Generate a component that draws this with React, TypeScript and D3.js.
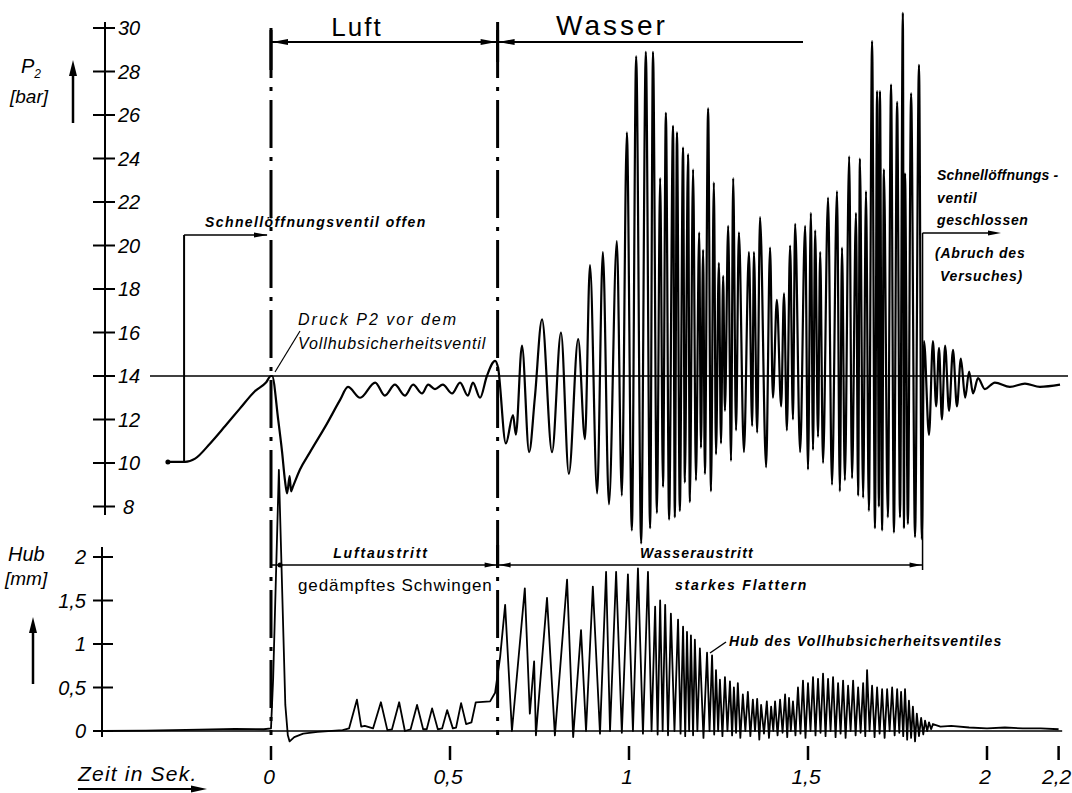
import React from "react";
import * as d3 from "d3";

const W = 1072;
const H = 793;
const FONT = "'Liberation Sans', Arial, sans-serif";

// Druck P2 vor dem Vollhubsicherheitsventil: [Zeit s, Druck bar]
const pressure: [number, number][] = [
  [-0.288, 10.05], [-0.24, 10.05], [-0.212, 10.2], [-0.17, 10.9], [-0.128, 11.7], [-0.087, 12.5],
  [-0.045, 13.3], [-0.014, 13.7], [0, 14.0], [0.003, 14.0], [0.02, 12.0], [0.031, 10.5], [0.039, 9.2],
  [0.045, 8.6], [0.052, 9.4], [0.056, 8.7], [0.061, 8.9], [0.081, 9.7], [0.109, 10.5], [0.156, 11.8],
  [0.193, 12.9], [0.215, 13.5], [0.249, 13.0], [0.291, 13.7], [0.318, 13.1], [0.346, 13.6], [0.374, 13.1],
  [0.397, 13.6], [0.422, 13.2], [0.439, 13.6], [0.458, 13.4], [0.48, 13.6], [0.506, 13.2], [0.528, 13.7],
  [0.55, 13.1], [0.564, 13.7], [0.584, 13.0], [0.603, 14.0], [0.626, 14.7], [0.634, 14.4],
  // Wasser
  [0.656, 10.9], [0.676, 12.2], [0.684, 11.3], [0.701, 15.4], [0.721, 10.5], [0.737, 13.0], [0.757, 16.6],
  [0.785, 10.5], [0.81, 16.0], [0.832, 9.5], [0.858, 15.7], [0.877, 11.1], [0.891, 19.1], [0.911, 8.6],
  [0.927, 19.7], [0.944, 8.1], [0.966, 20.2], [0.98, 8.5], [0.994, 25.2], [1.008, 6.9], [1.02, 28.7],
  [1.034, 6.3], [1.047, 28.9], [1.059, 7.0], [1.067, 28.9], [1.078, 7.7], [1.087, 23.1], [1.095, 8.9],
  [1.103, 26.1], [1.112, 7.4], [1.123, 25.5], [1.128, 7.5], [1.134, 25.2], [1.142, 7.8], [1.151, 24.5],
  [1.156, 9.1], [1.165, 24.2], [1.17, 8.2], [1.179, 23.5], [1.187, 9.2], [1.196, 20.6], [1.201, 10.7],
  [1.207, 19.8], [1.212, 9.5], [1.221, 26.3], [1.229, 8.7], [1.237, 22.9], [1.243, 10.4], [1.251, 19.2],
  [1.257, 10.9], [1.263, 18.6], [1.268, 12.4], [1.277, 20.9], [1.285, 10.1], [1.291, 23.1], [1.299, 11.5],
  [1.307, 20.6], [1.321, 10.5], [1.335, 19.7], [1.344, 11.7], [1.349, 19.7], [1.358, 11.4], [1.366, 21.3],
  [1.383, 9.8], [1.394, 19.9], [1.402, 13.0], [1.413, 17.5], [1.425, 12.6], [1.433, 17.8], [1.441, 11.5],
  [1.45, 20.0], [1.458, 12.0], [1.464, 21.0], [1.478, 10.5], [1.492, 20.9], [1.5, 9.7], [1.508, 21.5],
  [1.514, 10.6], [1.52, 20.7], [1.528, 11.2], [1.534, 19.7], [1.542, 10.0], [1.556, 22.2], [1.567, 9.0],
  [1.581, 22.5], [1.589, 8.7], [1.595, 19.9], [1.603, 9.2], [1.615, 24.1], [1.623, 9.3], [1.634, 21.5],
  [1.64, 8.5], [1.645, 24.0], [1.654, 8.4], [1.662, 22.5], [1.67, 7.8], [1.679, 29.4], [1.687, 7.0],
  [1.693, 27.1], [1.698, 8.0], [1.701, 27.1], [1.707, 6.9], [1.712, 23.5], [1.723, 7.5], [1.732, 27.4],
  [1.74, 6.8], [1.749, 26.6], [1.757, 7.5], [1.765, 30.7], [1.768, 7.0], [1.771, 23.3], [1.779, 7.2],
  [1.788, 27.0], [1.799, 6.6], [1.81, 28.3], [1.818, 6.5],
  // Ventil geschlossen, Ausschwingen
  [1.824, 15.6], [1.838, 11.3], [1.849, 15.6], [1.858, 12.6], [1.866, 15.3], [1.874, 12.0], [1.883, 15.4],
  [1.894, 12.4], [1.905, 15.2], [1.916, 12.6], [1.927, 14.8], [1.939, 13.0], [1.95, 14.2], [1.961, 13.2],
  [1.975, 13.9], [1.994, 13.4], [2.022, 13.7], [2.064, 13.5], [2.106, 13.65], [2.148, 13.5], [2.204, 13.6],
];

// Hub des Vollhubsicherheitsventiles: [Zeit s, Hub mm]
const lift: [number, number][] = [
  [-0.472, 0.0], [-0.35, 0.005], [-0.2, 0.015], [-0.1, 0.025], [-0.02, 0.02], [0.0, 0.03], [0.006, 0.6],
  [0.022, 3.0], [0.04, 0.3], [0.047, -0.05], [0.052, -0.12], [0.065, -0.07], [0.09, -0.03], [0.13, -0.01],
  [0.2, 0.01], [0.218, 0.03], [0.24, 0.36], [0.252, 0.05], [0.262, 0.06], [0.285, 0.03], [0.307, 0.33],
  [0.325, 0.01], [0.338, 0.02], [0.358, 0.33], [0.374, 0.0], [0.39, 0.02], [0.408, 0.3], [0.425, 0.02],
  [0.435, 0.02], [0.45, 0.26], [0.466, 0.02], [0.478, 0.03], [0.492, 0.24], [0.508, 0.03], [0.517, 0.04],
  [0.531, 0.32], [0.545, 0.08], [0.56, 0.1], [0.572, 0.33], [0.612, 0.34], [0.626, 0.44],
  [0.64, 0.85], [0.654, 1.45], [0.673, 0.0], [0.709, 1.64], [0.723, 0.2], [0.735, 0.8], [0.74, -0.05],
  [0.771, 1.53], [0.793, -0.05], [0.827, 1.74], [0.844, -0.07], [0.866, 1.16], [0.88, 0.0], [0.899, 1.66],
  [0.919, -0.03], [0.936, 1.83], [0.947, 0.0], [0.964, 1.83], [0.98, -0.02], [0.997, 1.8], [1.011, 0.0],
  [1.025, 1.87], [1.039, -0.03], [1.053, 1.83], [1.063, 0.0], [1.073, 1.43], [1.08, -0.04], [1.087, 1.5],
  [1.094, 0.0], [1.101, 1.45], [1.109, -0.05], [1.117, 1.35], [1.127, 0.0], [1.137, 1.28], [1.144, -0.03],
  [1.151, 1.2], [1.157, -0.06], [1.162, 1.14], [1.168, 0.0], [1.173, 1.1], [1.179, -0.05], [1.184, 1.05],
  [1.191, 0.0], [1.198, 0.95], [1.208, -0.08], [1.218, 0.9], [1.225, 0.0], [1.232, 0.87], [1.238, -0.04],
  [1.243, 0.7], [1.249, 0.0], [1.254, 0.59], [1.261, -0.06], [1.268, 0.62], [1.275, 0.0], [1.282, 0.57],
  [1.288, -0.05], [1.293, 0.5], [1.299, -0.02], [1.304, 0.55], [1.311, -0.08], [1.318, 0.42], [1.325, 0.0],
  [1.332, 0.45], [1.339, -0.06], [1.346, 0.36], [1.352, 0.0], [1.358, 0.37], [1.364, -0.1], [1.369, 0.3],
  [1.377, -0.03], [1.385, 0.34], [1.391, -0.08], [1.397, 0.28], [1.403, 0.0], [1.408, 0.34], [1.415, -0.05],
  [1.422, 0.36], [1.429, -0.02], [1.436, 0.42], [1.442, -0.07], [1.447, 0.38], [1.452, 0.0], [1.458, 0.34],
  [1.465, -0.05], [1.472, 0.5], [1.479, -0.03], [1.486, 0.58], [1.493, -0.08], [1.5, 0.55], [1.507, 0.0],
  [1.514, 0.62], [1.521, -0.05], [1.528, 0.6], [1.535, -0.02], [1.542, 0.66], [1.549, -0.06], [1.556, 0.6],
  [1.563, 0.0], [1.57, 0.62], [1.577, -0.07], [1.584, 0.55], [1.591, -0.03], [1.598, 0.58], [1.605, -0.08],
  [1.612, 0.52], [1.619, 0.0], [1.626, 0.58], [1.633, -0.05], [1.64, 0.5], [1.647, -0.02], [1.654, 0.55],
  [1.66, -0.06], [1.665, 0.7], [1.672, 0.0], [1.679, 0.52], [1.686, -0.07], [1.693, 0.5], [1.7, -0.03],
  [1.707, 0.48], [1.714, -0.08], [1.721, 0.48], [1.728, 0.0], [1.735, 0.5], [1.742, -0.05], [1.749, 0.48],
  [1.755, -0.02], [1.76, 0.45], [1.766, -0.06], [1.771, 0.48], [1.777, -0.1], [1.782, 0.35], [1.788, -0.08],
  [1.793, 0.28], [1.799, -0.12], [1.804, 0.2], [1.81, -0.06], [1.816, 0.15], [1.822, -0.04], [1.827, 0.12],
  [1.833, 0.0], [1.838, 0.1], [1.844, 0.02], [1.849, 0.08], [1.87, 0.05], [1.9, 0.06], [1.95, 0.04],
  [2.0, 0.03], [2.05, 0.04], [2.1, 0.03], [2.15, 0.03], [2.2, 0.02],
];

const pTicks = [8, 10, 12, 14, 16, 18, 20, 22, 24, 26, 28, 30];
const hTicks = [0, 0.5, 1, 1.5, 2];
const hTickLabels = ["0", "0,5", "1", "1,5", "2"];
const tTicks = [0, 0.5, 1, 1.5, 2, 2.2];
const tTickLabels = ["0", "0,5", "1", "1,5", "2", "2,2"];

// Schnellöffnungsventil offen / Luft / Wasser / Ventil geschlossen
const phaseTimes = [-0.24, 0, 0.633, 1.82];
const referencePressure = 14;

function Arrow({ x, y, dir, len = 14, w = 3 }: { x: number; y: number; dir: string; len?: number; w?: number }) {
  let pts = "";
  if (dir === "right") pts = `${x},${y} ${x - len},${y - w} ${x - len},${y + w}`;
  if (dir === "left") pts = `${x},${y} ${x + len},${y - w} ${x + len},${y + w}`;
  if (dir === "up") pts = `${x},${y} ${x - w},${y + len} ${x + w},${y + len}`;
  return <polygon points={pts} fill="#000" />;
}

export default function App() {
  const x = d3.scaleLinear().domain([0, 2.2]).range([271, 1058.6]);
  const yP = d3.scaleLinear().domain([8, 30]).range([506.5, 28]);
  const yH = d3.scaleLinear().domain([0, 2]).range([731, 557]);

  const pLine = d3
    .line<[number, number]>()
    .x((d) => x(d[0]))
    .y((d) => yP(d[1]))
    .curve(d3.curveMonotoneX);
  const hLine = d3
    .line<[number, number]>()
    .x((d) => x(d[0]))
    .y((d) => yH(d[1]))
    .curve(d3.curveLinear);

  const [tOpen, tAir, tWater, tStop] = phaseTimes;
  const xAir = x(tAir);
  const xWater = x(tWater);
  const xStop = x(tStop);
  const xOpen = x(tOpen);

  const italic = { fontFamily: FONT, fontStyle: "italic" as const };
  const note = { ...italic, fontWeight: 700, fontSize: 14, letterSpacing: 0.6 };

  return (
    <svg
      width={W}
      height={H}
      style={{ position: "absolute", left: 0, top: 0, background: "#fff" }}
    >
      {/* P2 axis */}
      <line x1={105} x2={105} y1={22} y2={515} stroke="#000" strokeWidth={2} />
      {pTicks.map((p) => (
        <g key={p}>
          <line x1={93} x2={115} y1={yP(p)} y2={yP(p)} stroke="#000" strokeWidth={2} />
          <text x={p < 10 ? 123 : 118} y={yP(p) + 7} fontSize={20} {...italic}>
            {p}
          </text>
        </g>
      ))}
      <text x={21} y={73} fontSize={20} {...italic}>
        P<tspan fontSize={12} dy={5}>2</tspan>
      </text>
      <text x={10} y={103} fontSize={19} {...italic}>[bar]</text>
      <line x1={73} x2={73} y1={123} y2={72} stroke="#000" strokeWidth={2.5} />
      <Arrow x={73} y={60} dir="up" len={16} w={4} />

      {/* Hub axis */}
      <line x1={102} x2={102} y1={547} y2={737} stroke="#000" strokeWidth={2} />
      {hTicks.map((h, i) => (
        <g key={h}>
          <line x1={93} x2={113} y1={yH(h)} y2={yH(h)} stroke="#000" strokeWidth={2} />
          <text x={86} y={yH(h) + 7} fontSize={20} textAnchor="end" {...italic}>
            {hTickLabels[i]}
          </text>
        </g>
      ))}
      <text x={8} y={561} fontSize={20} {...italic}>Hub</text>
      <text x={5} y={585} fontSize={19} {...italic}>[mm]</text>
      <line x1={33} x2={33} y1={684} y2={630} stroke="#000" strokeWidth={2.5} />
      <Arrow x={33} y={617} dir="up" len={16} w={4} />

      {/* Zeit axis */}
      <line x1={100} x2={x(2.21)} y1={yH(0)} y2={yH(0)} stroke="#000" strokeWidth={1.5} />
      {tTicks.map((t, i) => (
        <g key={t}>
          <line x1={x(t)} x2={x(t)} y1={746} y2={760} stroke="#000" strokeWidth={2.5} />
          <text x={x(t) - 2} y={784} fontSize={21} textAnchor="middle" {...italic}>
            {tTickLabels[i]}
          </text>
        </g>
      ))}
      <text x={78} y={781} fontSize={21} {...italic} letterSpacing={1.2}>Zeit  in  Sek.</text>
      <line x1={78} x2={195} y1={789} y2={789} stroke="#000" strokeWidth={2} />
      <Arrow x={207} y={789} dir="right" len={16} w={3.5} />

      {/* 14 bar reference line */}
      <line
        x1={x(-0.338)}
        x2={1068}
        y1={yP(referencePressure)}
        y2={yP(referencePressure)}
        stroke="#000"
        strokeWidth={1.5}
      />

      {/* dash-dot phase boundaries */}
      {[xAir, xWater].map((xv) => (
        <line
          key={xv}
          x1={xv}
          x2={xv}
          y1={30}
          y2={735}
          stroke="#000"
          strokeWidth={3}
          strokeDasharray="48 9 4 9"
        />
      ))}

      {/* top bracket Luft / Wasser */}
      <line x1={xAir} x2={xAir} y1={28} y2={70} stroke="#000" strokeWidth={3} />
      <line x1={xWater} x2={xWater} y1={22} y2={62} stroke="#000" strokeWidth={3} />
      <line x1={xAir} x2={803} y1={42} y2={42} stroke="#000" strokeWidth={1.8} />
      <Arrow x={xAir + 1} y={42} dir="left" len={16} w={3} />
      <Arrow x={xWater - 1} y={42} dir="right" len={16} w={3} />
      <Arrow x={xWater + 1} y={42} dir="left" len={16} w={3} />
      <text x={357} y={36} fontSize={26} textAnchor="middle" fontFamily={FONT} letterSpacing={2}>Luft</text>
      <text x={612} y={35} fontSize={28} textAnchor="middle" fontFamily={FONT} letterSpacing={3}>Wasser</text>

      {/* Schnellöffnungsventil offen */}
      <line x1={xOpen - 1} x2={xOpen - 1} y1={235} y2={yP(10)} stroke="#000" strokeWidth={2} />
      <line x1={xOpen - 1} x2={xAir - 4} y1={235} y2={235} stroke="#000" strokeWidth={1.5} />
      <Arrow x={xAir - 3} y={235} dir="right" len={14} w={2.5} />
      <text x={205} y={227} {...note} letterSpacing={1.4}>Schnellöffnungsventil offen</text>

      {/* Druck label */}
      <line x1={275} x2={300} y1={372} y2={331} stroke="#000" strokeWidth={1.2} />
      <text x={298} y={325} {...italic} fontSize={16} letterSpacing={2}>Druck P2 vor dem</text>
      <text x={298} y={349} {...italic} fontSize={16} letterSpacing={0.9}>Vollhubsicherheitsventil</text>

      {/* Schnellöffnungsventil geschlossen */}
      <line x1={xStop} x2={xStop} y1={233} y2={570} stroke="#000" strokeWidth={1.5} />
      <line x1={xStop} x2={990} y1={233} y2={233} stroke="#000" strokeWidth={1.5} />
      <Arrow x={1001} y={233} dir="right" len={13} w={2.5} />
      <text x={937} y={180} {...note} fontSize={14} letterSpacing={0.2}>Schnellöffnungs -</text>
      <text x={937} y={203} {...note} fontSize={14}>ventil</text>
      <text x={937} y={225} {...note} fontSize={14}>geschlossen</text>
      <text x={935} y={258} {...note} fontSize={14} letterSpacing={0.8}>(Abruch  des</text>
      <text x={940} y={281} {...note} fontSize={14} letterSpacing={0.8}>Versuches)</text>

      {/* pressure curve */}
      <path d={pLine(pressure) ?? ""} fill="none" stroke="#000" strokeWidth={2.2} strokeLinejoin="round" />
      <circle cx={x(pressure[0][0])} cy={yP(pressure[0][1])} r={2.5} fill="#000" />

      {/* lower bracket Luftaustritt / Wasseraustritt */}
      <line x1={xAir} x2={xStop} y1={565} y2={565} stroke="#000" strokeWidth={1.5} />
      <line x1={xWater} x2={xWater} y1={545} y2={568} stroke="#000" strokeWidth={3} />
      <circle cx={xAir + 9} cy={565} r={2.5} fill="#000" />
      <Arrow x={xWater - 1} y={565} dir="right" len={12} w={2.5} />
      <Arrow x={xWater + 1} y={565} dir="left" len={12} w={2.5} />
      <Arrow x={xStop - 1} y={565} dir="right" len={12} w={2.5} />
      <text x={381} y={558} textAnchor="middle" {...note} fontSize={14} letterSpacing={1.8}>Luftaustritt</text>
      <text x={697} y={558} textAnchor="middle" {...note} fontSize={14} letterSpacing={1.2}>Wasseraustritt</text>
      <text x={298} y={591} fontFamily={FONT} fontSize={17} letterSpacing={0.9}>gedämpftes Schwingen</text>
      <text x={675} y={590} {...note} fontSize={14} letterSpacing={1.8}>starkes  Flattern</text>

      {/* lift curve */}
      <path d={hLine(lift) ?? ""} fill="none" stroke="#000" strokeWidth={1.8} strokeLinejoin="round" />
      <line x1={710} x2={726} y1={653} y2={642} stroke="#000" strokeWidth={1.5} />
      <text x={729} y={646} {...note} fontSize={14} letterSpacing={1.1}>Hub des Vollhubsicherheitsventiles</text>
    </svg>
  );
}
